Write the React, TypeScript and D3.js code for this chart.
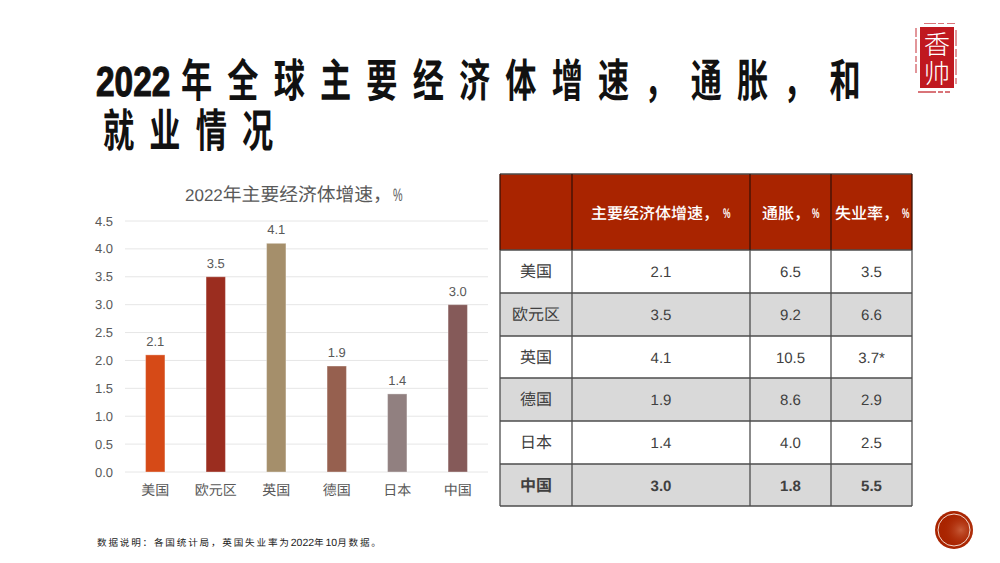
import * as d3 from 'd3';

const CJK = '"Noto Sans CJK SC", "Liberation Sans", sans-serif';
const LATIN = '"Liberation Sans", "Noto Sans CJK SC", sans-serif';

const countries = ['美国', '欧元区', '英国', '德国', '日本', '中国'];
const growth = [2.1, 3.5, 4.1, 1.9, 1.4, 3.0];
const inflation = ['6.5', '9.2', '10.5', '8.6', '4.0', '1.8'];
const unemployment = ['3.5', '6.6', '3.7*', '2.9', '2.5', '5.5'];
const barColors = ['#d64a17', '#9b2d1f', '#a58f6b', '#96604f', '#918080', '#855a59'];
const yTicks = [0, 0.5, 1, 1.5, 2, 2.5, 3, 3.5, 4, 4.5];
const tableHeaders = ['', '主要经济体增速，', '通胀，', '失业率，'];

const colEdges = [500, 572, 750, 831, 912];
const rowEdges = [174, 250, 293, 336, 378, 421, 464, 506];

// narrow percent sign, the source font squeezes it
function Pct({ x, y, size, fill, weight = 400 }: { x: number; y: number; size: number; fill: string; weight?: number }) {
  return (
    <text transform={`translate(${x},${y}) scale(0.6,1)`} fontSize={size} fontWeight={weight} fill={fill} fontFamily={LATIN}>
      %
    </text>
  );
}

function Chart() {
  const x = d3.scaleBand<string>().domain(countries).range([125, 488]).paddingInner(0.68).paddingOuter(0.34);
  const y = d3.scaleLinear().domain([0, 4.5]).range([472, 221]);
  const center = (c: string) => (x(c) || 0) + x.bandwidth() / 2;

  return (
    <g>
      <text x={185} y={201} fill="#595959" fontFamily={CJK} fontSize={18.8}>
        <tspan fontFamily={LATIN} fontSize={17}>2022</tspan>年主要经济体增速，
      </text>
      <Pct x={393} y={201} size={18} fill="#595959" />
      {yTicks.map((t) => (
        <g key={t}>
          <line x1={125} x2={488} y1={y(t)} y2={y(t)} stroke="#e6e6e6" strokeWidth={1} />
          <text x={113} y={y(t) + 4.5} textAnchor="end" fontSize={13} fill="#595959" fontFamily={LATIN}>
            {t.toFixed(1)}
          </text>
        </g>
      ))}
      {countries.map((c, i) => (
        <g key={c}>
          <rect
            x={x(c)}
            y={y(growth[i])}
            width={x.bandwidth()}
            height={y(0) - y(growth[i])}
            fill={barColors[i]}
            stroke="#ffffff"
            strokeOpacity={0.35}
            strokeWidth={1}
          />
          <text x={center(c)} y={y(growth[i]) - 9} textAnchor="middle" fontSize={13} fill="#595959" fontFamily={LATIN}>
            {growth[i].toFixed(1)}
          </text>
          <text x={center(c)} y={495} textAnchor="middle" fontSize={14} fill="#595959" fontFamily={CJK}>
            {c}
          </text>
        </g>
      ))}
    </g>
  );
}

function Table() {
  const textColor = '#404040';
  const midX = (i: number) => (colEdges[i] + colEdges[i + 1]) / 2;
  const midY = (i: number) => (rowEdges[i] + rowEdges[i + 1]) / 2 + 5.5;
  return (
    <g fontSize={15} fill={textColor} fontFamily={LATIN}>
      <rect x={colEdges[0]} y={rowEdges[0]} width={colEdges[4] - colEdges[0]} height={rowEdges[1] - rowEdges[0]} fill="#a92400" />
      {countries.map((c, i) => (
        <rect
          key={c}
          x={colEdges[0]}
          y={rowEdges[i + 1]}
          width={colEdges[4] - colEdges[0]}
          height={rowEdges[i + 2] - rowEdges[i + 1]}
          fill={i % 2 === 1 ? '#d9d9d9' : '#ffffff'}
        />
      ))}
      {rowEdges.map((r) => (
        <line key={r} x1={colEdges[0]} x2={colEdges[4]} y1={r} y2={r} stroke="#4d4d4d" strokeWidth={1.3} />
      ))}
      {colEdges.map((e) => (
        <g key={e}>
          <line x1={e} x2={e} y1={rowEdges[0]} y2={rowEdges[1]} stroke="#3a1006" strokeWidth={1.3} />
          <line x1={e} x2={e} y1={rowEdges[1]} y2={rowEdges[7]} stroke="#4d4d4d" strokeWidth={1.3} />
        </g>
      ))}
      <g fill="#ffffff" fontFamily={CJK} fontWeight={500} fontSize={16}>
        <text x={591} y={218.5}>{tableHeaders[1]}</text>
        <text x={762} y={218.5}>{tableHeaders[2]}</text>
        <text x={835} y={218.5}>{tableHeaders[3]}</text>
      </g>
      <Pct x={723} y={218} size={14} fill="#ffffff" weight={700} />
      <Pct x={812} y={218} size={14} fill="#ffffff" weight={700} />
      <Pct x={902} y={218} size={14} fill="#ffffff" weight={700} />
      {countries.map((c, i) => {
        const bold = i === countries.length - 1 ? 700 : 400;
        return (
          <g key={c} fontWeight={bold}>
            <text x={midX(0)} y={midY(i + 1)} textAnchor="middle" fontFamily={CJK} fontSize={16}>{c}</text>
            <text x={midX(1)} y={midY(i + 1)} textAnchor="middle">{growth[i].toFixed(1)}</text>
            <text x={midX(2)} y={midY(i + 1)} textAnchor="middle">{inflation[i]}</text>
            <text x={midX(3)} y={midY(i + 1)} textAnchor="middle">{unemployment[i]}</text>
          </g>
        );
      })}
    </g>
  );
}

function Title() {
  const common = { fontWeight: 700, fill: '#111111' };
  return (
    <g>
      <text transform="translate(96,96) scale(0.88,1.1)" fontSize={38} stroke="#111111" strokeWidth={1} {...common} fontFamily={LATIN}>
        2022
      </text>
      <text transform="translate(181,97) scale(0.82,1.2)" fontSize={38} letterSpacing={18.5} {...common} fontFamily={CJK}>
        年全球主要经济体增速，通胀，和
      </text>
      <text transform="translate(103,147) scale(0.82,1.2)" fontSize={38} letterSpacing={18.5} {...common} fontFamily={CJK}>
        就业情况
      </text>
    </g>
  );
}

function Seal() {
  const red = '#c0181f';
  return (
    <g>
      <rect x={920} y={27} width={34} height={61} fill={red} />
      <g stroke={red} strokeOpacity={0.6} fill="none">
        <line x1={916} x2={916} y1={28} y2={74} strokeWidth={1.5} strokeDasharray="9 2 14 3 6 2" />
        <line x1={924} x2={955} y1={23.5} y2={23.5} strokeWidth={1.2} strokeDasharray="12 2 6 3" />
        <line x1={956} x2={956} y1={30} y2={84} strokeWidth={1.5} strokeDasharray="16 3 8 2" />
        <line x1={918} x2={950} y1={92} y2={92} strokeWidth={2} strokeDasharray="18 2 5 2" />
      </g>
      <text transform="translate(937,54) scale(1.1,1.1)" textAnchor="middle" fontSize={24} fontWeight={300} fill="#ffffff" fontFamily={CJK}>香</text>
      <text transform="translate(937,83) scale(1.1,1.1)" textAnchor="middle" fontSize={24} fontWeight={300} fill="#ffffff" fontFamily={CJK}>帅</text>
    </g>
  );
}

export default function App() {
  return (
    <svg width={1000} height={563} style={{ position: 'absolute', left: 0, top: 0, background: '#fff' }} textRendering="geometricPrecision">
      <defs>
        <radialGradient id="dotGlow" cx="0.68" cy="0.5" r="0.5">
          <stop offset="0" stopColor="#e08a68" stopOpacity={0.55} />
          <stop offset="1" stopColor="#a92400" stopOpacity={0} />
        </radialGradient>
      </defs>
      <Title />
      <Seal />
      <Chart />
      <Table />
      <text x={97} y={546} fontSize={9.6} letterSpacing={1.8} fill="#222222" fontFamily={CJK}>
        数据说明：各国统计局，英国失业率为
        <tspan letterSpacing={0} fontFamily={LATIN} fontSize={10.5}>2022</tspan>年<tspan letterSpacing={0} fontFamily={LATIN} fontSize={10.5}>10</tspan>月数据。
      </text>
      <circle cx={954} cy={530} r={19} fill="#a92400" />
      <circle cx={954} cy={530} r={19} fill="url(#dotGlow)" />
      <circle cx={954} cy={530} r={16} fill="none" stroke="#f3d9cf" strokeWidth={1} />
    </svg>
  );
}
